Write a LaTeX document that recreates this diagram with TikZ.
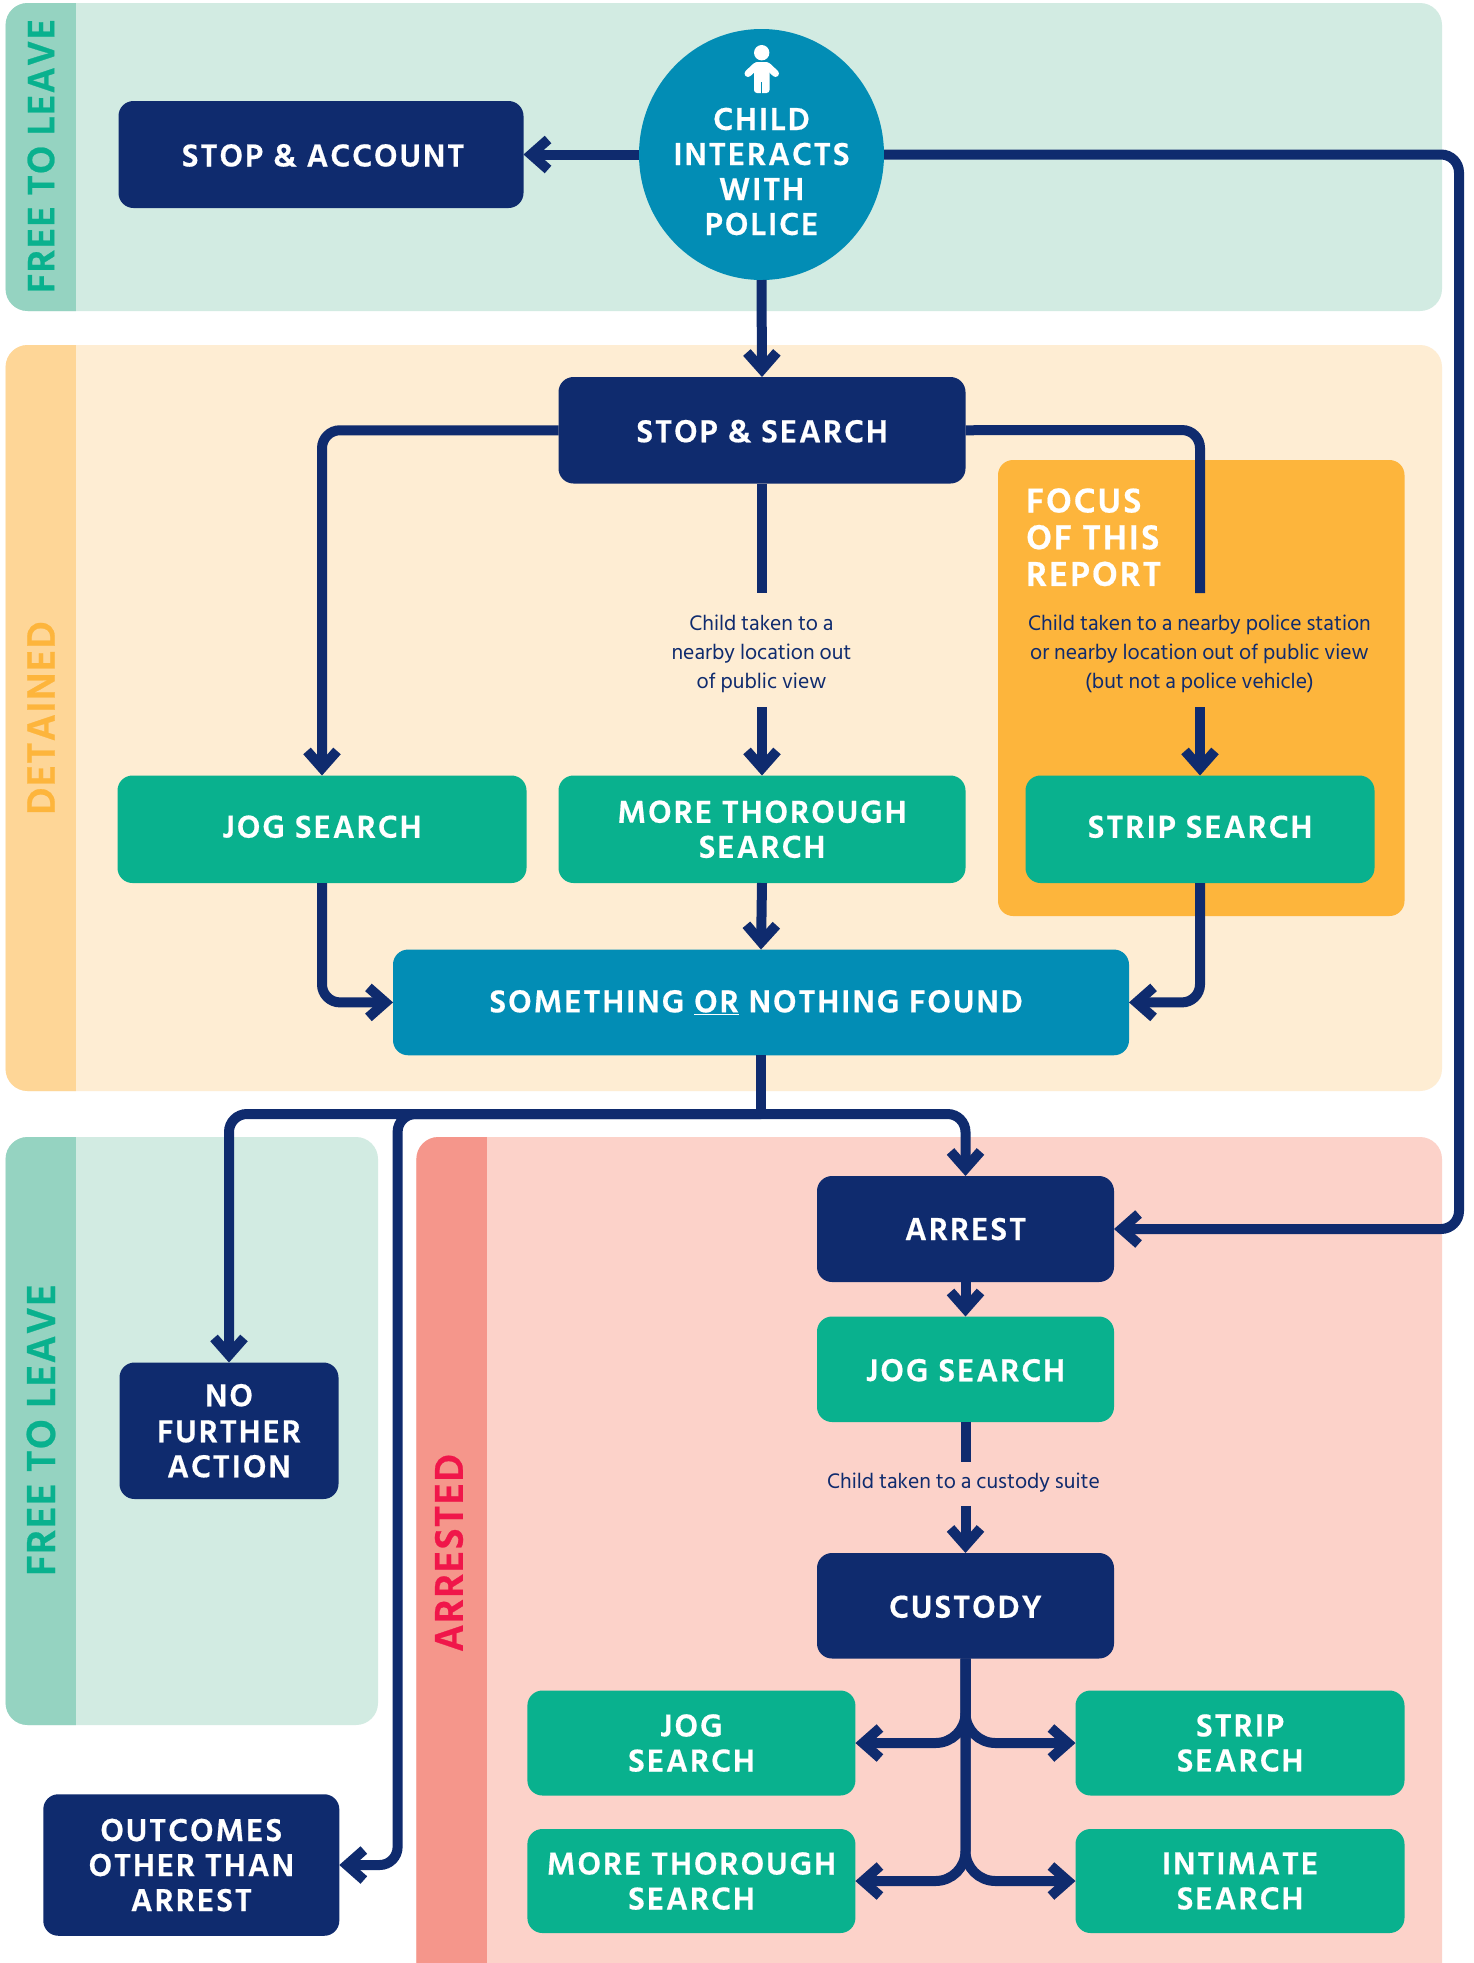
\documentclass[tikz,border=0pt]{standalone}
\usepackage{fontspec}
\setmainfont{Hind Siliguri}
\newfontfamily\hb[LetterSpace=6,BoldFeatures={FakeBold=0.5}]{Hind Siliguri}
\newfontfamily\hs[LetterSpace=3,BoldFeatures={FakeBold=0.6}]{Hind Siliguri}
\usetikzlibrary{arrows.meta,shapes.geometric}
\definecolor{navy}{HTML}{0F2B6E}
\definecolor{teal}{HTML}{028DB5}
\definecolor{gbox}{HTML}{09B18E}
\definecolor{gband}{HTML}{D2EBE2}
\definecolor{gbar}{HTML}{95D3C1}
\definecolor{oband}{HTML}{FEEDD3}
\definecolor{obar}{HTML}{FED697}
\definecolor{otitle}{HTML}{FDB53C}
\definecolor{pband}{HTML}{FCD2C9}
\definecolor{pbar}{HTML}{F5968B}
\definecolor{rtitle}{HTML}{F0164A}
\newcommand{\bl}[2]{\raisebox{#1pt}[0pt][0pt]{#2}}
\tikzset{
  boxbase/.style={rectangle,rounded corners=15pt,inner sep=0pt,outer sep=0pt,text=white,align=center,
    font=\fontsize{32.6}{35}\selectfont\hb\bfseries},
  navybox/.style={boxbase,fill=navy},
  greenbox/.style={boxbase,fill=gbox},
  tealbox/.style={boxbase,fill=teal},
  conn/.style={draw=navy,line width=10pt,rounded corners=18pt},
  arr/.style={conn,-{Straight Barb[length=17pt,width=30pt,line width=10pt]}},
  curved/.style={arr,rounded corners=30pt},
  note/.style={text=navy,align=center,inner sep=0pt,font=\fontsize{21.6}{29.2}\selectfont},
  sidelabel/.style={rotate=90,inner sep=0pt,font=\fontsize{41.5}{42}\selectfont\hs\bfseries},
}
\begin{document}
\begin{tikzpicture}[x=1pt,y=-1pt]
\useasboundingbox (0,0) rectangle (1474,1963);
\fill[white] (0,0) rectangle (1474,1963);
% bands
\begin{scope}
\clip[rounded corners=22pt] (5.6,3) rectangle (1442,311);
\fill[gband] (0,0) rectangle (1474,320);
\fill[gbar] (0,0) rectangle (76,320);
\end{scope}
\begin{scope}
\clip[rounded corners=22pt] (5.6,345) rectangle (1442,1091);
\fill[oband] (0,340) rectangle (1474,1100);
\fill[obar] (0,340) rectangle (76,1100);
\end{scope}
\begin{scope}
\clip[rounded corners=22pt] (5.6,1137) rectangle (378,1725);
\fill[gband] (0,1130) rectangle (400,1730);
\fill[gbar] (0,1130) rectangle (76,1730);
\end{scope}
\begin{scope}
\clip (0,0) rectangle (1474,1963);
\clip[rounded corners=22pt] (416.4,1137) rectangle (1442,1985);
\fill[pband] (400,1130) rectangle (1474,1990);
\fill[pbar] (400,1130) rectangle (487,1990);
\end{scope}
\fill[otitle,rounded corners=15pt] (998,460) rectangle (1404.5,916);
% side labels
\node[sidelabel,text=gbox,font=\fontsize{39}{42}\selectfont\hs\bfseries] (l1) at (41,156) {FREE TO LEAVE};
\node[sidelabel,text=otitle,font=\fontsize{40.5}{42}\selectfont\hs\bfseries] (l2) at (41,718) {DETAINED};
\node[sidelabel,text=gbox] (l3) at (41,1430) {FREE TO LEAVE};
\node[sidelabel,text=rtitle,font=\fontsize{41}{42}\selectfont\hs\bfseries] (l4) at (449,1553) {ARRESTED};
% nodes
\node[ellipse,fill=teal,inner sep=0pt,outer sep=0pt,minimum width=245pt,minimum height=251pt] (child) at (761.5,154.5) {};
\node[boxbase,text=white] (childt) at (761.5,171.5) {CHILD\\INTERACTS\\WITH\\POLICE};
\node[navybox,minimum width=405pt,minimum height=107pt] (sa) at (321,154.5) {\bl{-12}{\hspace{4pt}STOP \& ACCOUNT}};
\node[navybox,minimum width=407pt,minimum height=106.5pt] (ss) at (762,430.25) {\bl{-12}{STOP \& SEARCH}};
\node[greenbox,minimum width=409pt,minimum height=107.5pt] (jog) at (322,829.25) {\bl{-8.5}{JOG SEARCH}};
\node[greenbox,minimum width=407pt,minimum height=107.5pt] (more) at (762,829.25) {MORE THOROUGH\\SEARCH};
\node[greenbox,minimum width=349pt,minimum height=107.5pt] (strip) at (1200,829.25) {\bl{-8.5}{STRIP SEARCH}};
\node[tealbox,minimum width=736pt,minimum height=105.7pt] (found) at (761,1002.4) {\bl{-10}{SOMETHING \underline{OR} NOTHING FOUND\hspace{10pt}}};
\node[navybox,minimum width=297pt,minimum height=106pt] (arrest) at (965.5,1229) {\bl{-11}{ARREST}};
\node[greenbox,minimum width=297pt,minimum height=105.5pt] (jog2) at (965.5,1369.25) {\bl{-12}{JOG SEARCH}};
\node[navybox,minimum width=297pt,minimum height=105.5pt] (custody) at (965.5,1605.75) {\bl{-12}{CUSTODY}};
\node[greenbox,minimum width=328pt,minimum height=105pt] (j3) at (691.4,1743) {JOG\\SEARCH};
\node[greenbox,minimum width=329pt,minimum height=105pt] (s3) at (1240,1743) {STRIP\\SEARCH};
\node[greenbox,minimum width=328pt,minimum height=104pt] (m3) at (691.4,1881) {MORE THOROUGH\\SEARCH};
\node[greenbox,minimum width=329pt,minimum height=104pt] (i3) at (1240,1881) {INTIMATE\\SEARCH};
\node[navybox,minimum width=219pt,minimum height=136.5pt] (nfa) at (229,1430.75) {\raisebox{1pt}{NO}\\FURTHER\\ACTION};
\node[navybox,minimum width=296pt,minimum height=141.5pt] (out) at (191.3,1865) {OUTCOMES\\OTHER THAN\\ARREST};
% texts
\node[note] (n1) at (761.5,654) {Child taken to a\\nearby location out\\of public view};
\node[note] (n2) at (1199.5,654) {Child taken to a nearby police station\\or nearby location out of public view\\(but not a police vehicle)};
\node[note] (n3) at (963.5,1483) {Child taken to a custody suite};
\node[anchor=north west,inner sep=0pt,text=white,align=left,font=\fontsize{35.5}{36.7}\selectfont\hb\bfseries] (focus) at (1026,488) {FOCUS\\OF THIS\\REPORT};
% person icon
\fill[white] (761.7,52.7) circle (7.7pt);
\fill[white,rounded corners=3pt] (754,62) rectangle (769.5,93);
\draw[white,line width=7pt,line cap=round] (756,66) -- (748,73.5);
\draw[white,line width=7pt,line cap=round] (767.5,66) -- (775.5,73.5);
\draw[teal,line width=1.5pt] (761.7,82) -- (761.7,94);
% free coordinates
\coordinate (bus) at (761,1114);
\coordinate (ss1) at (762,593);
\coordinate (ss2) at (762,707);
\coordinate (st0) at (1200,430);
\coordinate (st1) at (1200,593);
\coordinate (st2) at (1200,707);
\coordinate (rt) at (1459,154.5);
\coordinate (rb) at (1459,1229);
\coordinate (o1) at (397.6,1114);
\coordinate (o2) at (397.6,1865);
\coordinate (c1) at (965.5,1462);
\coordinate (c2) at (965.5,1506);
% connectors
\draw[arr] (child.west) -- (sa.east);
\draw[arr] (child.south) -- (ss.north);
\draw[arr] (child.east) -- (rt) -- (rb) -- (arrest.east);
\draw[arr] (ss.west) -| (jog.north);
\draw[conn] (ss.south) -- (ss1);
\draw[arr] (ss2) -- (more.north);
\draw[conn] (ss.east) -- (st0) -- (st1);
\draw[arr] (st2) -- (strip.north);
\draw[arr] (jog.south) |- (found.west);
\draw[arr] (more.south) -- (found.north);
\draw[arr] (strip.south) |- (found.east);
\draw[conn] (found.south) -- (bus);
\draw[arr] (bus) -| (nfa.north);
\draw[arr] (bus) -| (arrest.north);
\draw[arr] (bus) -- (o1) -- (o2) -- (out.east);
\draw[arr] (arrest.south) -- (jog2.north);
\draw[conn] (jog2.south) -- (c1);
\draw[arr] (c2) -- (custody.north);
\draw[curved] (custody.south) |- (j3.east);
\draw[curved] (custody.south) |- (s3.west);
\draw[curved] (custody.south) |- (m3.east);
\draw[curved] (custody.south) |- (i3.west);
\end{tikzpicture}
\end{document}
